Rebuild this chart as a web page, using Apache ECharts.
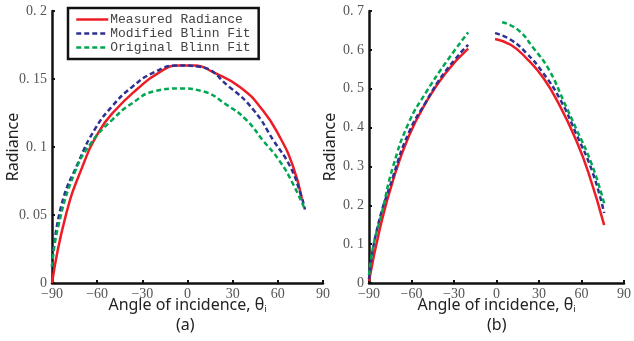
<!DOCTYPE html>
<html>
<head>
<meta charset="utf-8">
<script src="https://cdn.jsdelivr.net/npm/echarts@6/dist/echarts.min.js"></script>
<style>
  html, body { margin: 0; padding: 0; background: #fff; }
  #chart { width: 634px; height: 341px; }
</style>
</head>
<body>
<div id="chart"></div>
<script>
// (a) angles / radiance
const aMeasAng = [-90, -81, -70, -59, -48, -33, -20, -6, 5, 17, 35, 50, 61, 70, 76];
const aMeasVal = [0, 0.049, 0.085, 0.111, 0.127, 0.143, 0.154, 0.160, 0.160, 0.155, 0.144, 0.127, 0.108, 0.086, 0.062];
const aModAng = [-90, -84, -72, -61, -50, -37, -22, -6, 8, 28, 44, 57, 68, 75, 78];
const aModVal = [0.012, 0.056, 0.090, 0.114, 0.130, 0.144, 0.155, 0.160, 0.159, 0.144, 0.127, 0.105, 0.086, 0.066, 0.054];
const aOrigAng = [-90, -86, -75, -64, -50, -37, -22, -5, 10, 26, 39, 50, 61, 70, 78];
const aOrigVal = [0.012, 0.041, 0.081, 0.103, 0.120, 0.132, 0.141, 0.143, 0.141, 0.131, 0.120, 0.105, 0.090, 0.073, 0.054];

// (b) two segments each (gap around normal incidence)
const bMeasAngL = [-90, -82, -73, -62, -50, -36, -20];
const bMeasValL = [0.005, 0.145, 0.265, 0.377, 0.463, 0.540, 0.603];
const bMeasAngR = [-1, 10, 21, 33, 45, 56, 65, 76];
const bMeasValR = [0.628, 0.613, 0.579, 0.528, 0.454, 0.369, 0.283, 0.149];
const bModAngL = [-90, -85, -73, -62, -50, -36, -20];
const bModValL = [0.01, 0.128, 0.274, 0.386, 0.465, 0.545, 0.613];
const bModAngR = [-1, 10, 21, 33, 45, 56, 68, 76];
const bModValR = [0.643, 0.626, 0.592, 0.540, 0.472, 0.386, 0.283, 0.180];
const bOrigAngL = [-90, -87, -81, -73, -62, -50, -36, -20];
const bOrigValL = [0.02, 0.094, 0.180, 0.300, 0.412, 0.489, 0.566, 0.645];
const bOrigAngR = [4, 15, 26, 37, 48, 56, 67, 76];
const bOrigValR = [0.671, 0.652, 0.605, 0.549, 0.463, 0.399, 0.308, 0.205];

const seriesNames = ['Measured Radiance', 'Modified Blinn Fit', 'Original Blinn Fit'];
const panelLabels = ['(a)', '(b)'];

const RED = '#ee1c25', BLUE = '#2e3192', GREEN = '#00a651';
const zip = (xs, ys) => xs.map((x, i) => [x, ys[i]]);

const tickFont = { fontFamily: 'Liberation Serif', fontSize: 14, color: '#555' };
// mimic the spaced decimal look "0. 15"
const yFmt = v => (v === 0 ? '0' : String(+v.toFixed(2)).replace('.', '. '));
const xFmt = v => (v < 0 ? '\u2212' + (-v) : String(v));

function xAxis(idx) {
  return {
    type: 'value', gridIndex: idx, min: -90, max: 90, interval: 30,
    axisLine: { onZero: false, lineStyle: { color: '#111', width: 2.5 } },
    axisTick: { inside: true, length: 3, lineStyle: { color: '#111', width: 2 } },
    splitLine: { show: false },
    axisLabel: Object.assign({ formatter: xFmt, margin: 4 }, tickFont),
    name: 'Angle of incidence, \u03b8{s|i}',
    nameLocation: 'middle', nameGap: 13, nameMoveOverlap: false,
    nameTextStyle: {
      fontFamily: 'Noto Sans', fontSize: 16, color: '#222', verticalAlign: 'top',
      rich: { s: { fontFamily: 'Noto Sans', fontSize: 9, color: '#222', verticalAlign: 'bottom', padding: [9, 0, 0, 0] } }
    }
  };
}
function yAxis(idx, max, interval) {
  return {
    type: 'value', gridIndex: idx, min: 0, max: max, interval: interval,
    axisLine: { show: true, onZero: false, lineStyle: { color: '#111', width: 2.5 } },
    axisTick: { show: true, inside: true, length: 3, lineStyle: { color: '#111', width: 2 } },
    splitLine: { show: false },
    axisLabel: Object.assign({ formatter: yFmt, margin: 5 }, tickFont),
    name: 'Radiance', nameLocation: 'middle', nameGap: 31, nameMoveOverlap: false,
    nameTextStyle: { fontFamily: 'Noto Sans', fontSize: 16, color: '#222' }
  };
}
function line(name, color, dashed, data, xi) {
  return {
    name: name, type: 'line', xAxisIndex: xi, yAxisIndex: xi,
    data: data, smooth: true, symbol: 'none',
    lineStyle: { color: color, width: 2.5, type: dashed ? [5, 3] : 'solid' },
    itemStyle: { color: color },
    z: dashed ? 3 : 2
  };
}

const chart = echarts.init(document.getElementById('chart'), null, { renderer: 'canvas' });
chart.setOption({
  animation: false,
  backgroundColor: '#fff',
  grid: [
    { left: 52, top: 11, width: 271, bottom: 58 },
    { left: 369, top: 11, width: 260, bottom: 58 }
  ],
  xAxis: [xAxis(0), xAxis(1)],
  yAxis: [yAxis(0, 0.2, 0.05), yAxis(1, 0.7, 0.1)],
  legend: {
    data: seriesNames, orient: 'vertical', left: 68, top: 8,
    itemWidth: 32, itemHeight: 14, itemGap: 1, padding: [5, 8, 5, 7],
    itemStyle: { opacity: 0 },
    lineStyle: { width: 2.5 },
    backgroundColor: '#fff', borderColor: '#111', borderWidth: 2.5,
    textStyle: { fontFamily: 'Liberation Mono', fontSize: 13, color: '#444', padding: [0, 0, 0, -3] }
  },
  graphic: [
    { type: 'text', left: 176, top: 317, style: { text: panelLabels[0], font: '16px "Noto Sans"', fill: '#222' } },
    { type: 'text', left: 487, top: 317, style: { text: panelLabels[1], font: '16px "Noto Sans"', fill: '#222' } }
  ],
  series: [
    line(seriesNames[0], RED, false, zip(aMeasAng, aMeasVal), 0),
    line(seriesNames[1], BLUE, true, zip(aModAng, aModVal), 0),
    line(seriesNames[2], GREEN, true, zip(aOrigAng, aOrigVal), 0),
    line(seriesNames[0], RED, false, zip(bMeasAngL, bMeasValL), 1),
    line(seriesNames[0], RED, false, zip(bMeasAngR, bMeasValR), 1),
    line(seriesNames[1], BLUE, true, zip(bModAngL, bModValL), 1),
    line(seriesNames[1], BLUE, true, zip(bModAngR, bModValR), 1),
    line(seriesNames[2], GREEN, true, zip(bOrigAngL, bOrigValL), 1),
    line(seriesNames[2], GREEN, true, zip(bOrigAngR, bOrigValR), 1)
  ]
});
</script>
</body>
</html>
